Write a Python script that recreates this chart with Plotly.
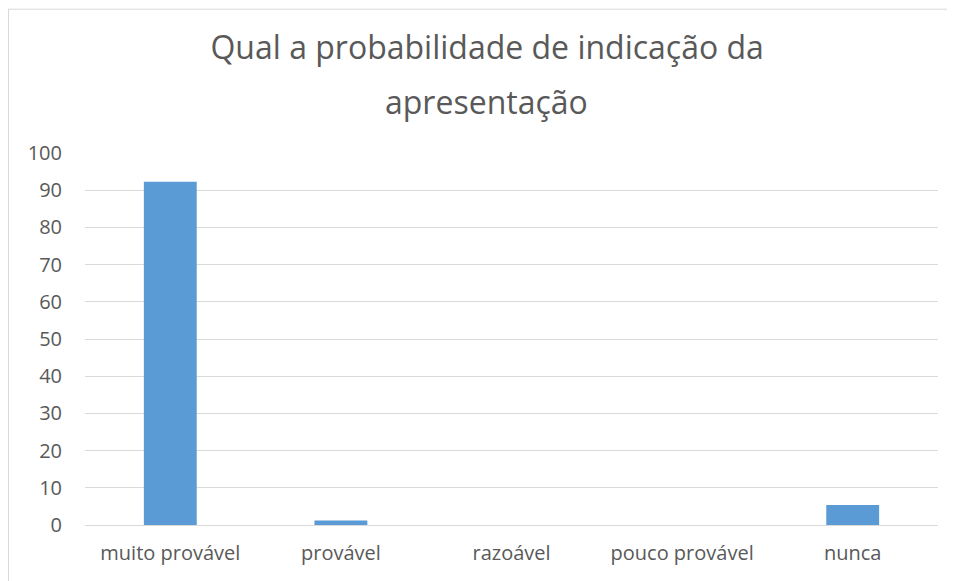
import plotly.graph_objects as go

categories = ["muito provável", "provável", "razoável", "pouco provável", "nunca"]
values = [92.3, 1.2, 0, 0, 5.4]
y_ticks = [0, 10, 20, 30, 40, 50, 60, 70, 80, 90, 100]
title_line1 = "Qual a probabilidade de indicação da"
title_line2 = "apresentação"

# page has an 8px body margin; figure sized to fit inside the window
OFF = 8
W, H = 955 - OFF, 581 - OFF
L = 85 - OFF
T = 152.5 - OFF
R = W - (938 - OFF)
B = H - (525 - OFF)
pw, ph = W - L - R, H - T - B

fig = go.Figure(go.Bar(x=categories, y=values, marker=dict(color="#5b9bd5", line=dict(width=0)),
                       width=0.31))

font_family = "Open Sans"
title_font = dict(family=font_family, size=32, color="#595959")
fig.update_layout(
    width=W, height=H,
    margin=dict(l=L, r=R, t=T, b=B, autoexpand=False),
    paper_bgcolor="white", plot_bgcolor="white",
    showlegend=False,
    title=dict(text=title_line1, x=0.506, xanchor="center", y=1 - 29 / H, yanchor="top",
               font=title_font),
    annotations=[
        dict(text=title_line2, xref="paper", yref="paper", x=(478 - L) / pw, xanchor="center",
             y=1 + (T - 69) / ph, yanchor="top", showarrow=False, font=title_font),
    ],
    xaxis=dict(showgrid=False, showline=True, linecolor="#d9d9d9", linewidth=1,
               ticks="", tickfont=dict(family=font_family, size=20, color="#595959"),
               ticklabelstandoff=10),
    yaxis=dict(range=[0, 100], tickvals=y_ticks, showgrid=True, gridcolor="#d9d9d9", gridwidth=1,
               zeroline=False, showline=False, ticks="",
               tickfont=dict(family=font_family, size=20, color="#595959"),
               ticklabelstandoff=22),
    shapes=[
        dict(type="line", xref="paper", yref="paper",
             x0=-L / pw + 0.5 / pw, x1=-L / pw + 0.5 / pw, y0=-1, y1=1 + (T - 0.5) / ph,
             line=dict(color="#d9d9d9", width=1)),
        dict(type="line", xref="paper", yref="paper",
             x0=-L / pw, x1=2, y0=1 + (T - 0.5) / ph, y1=1 + (T - 0.5) / ph,
             line=dict(color="#d9d9d9", width=1)),
    ],
)

fig.write_html("out.html")
